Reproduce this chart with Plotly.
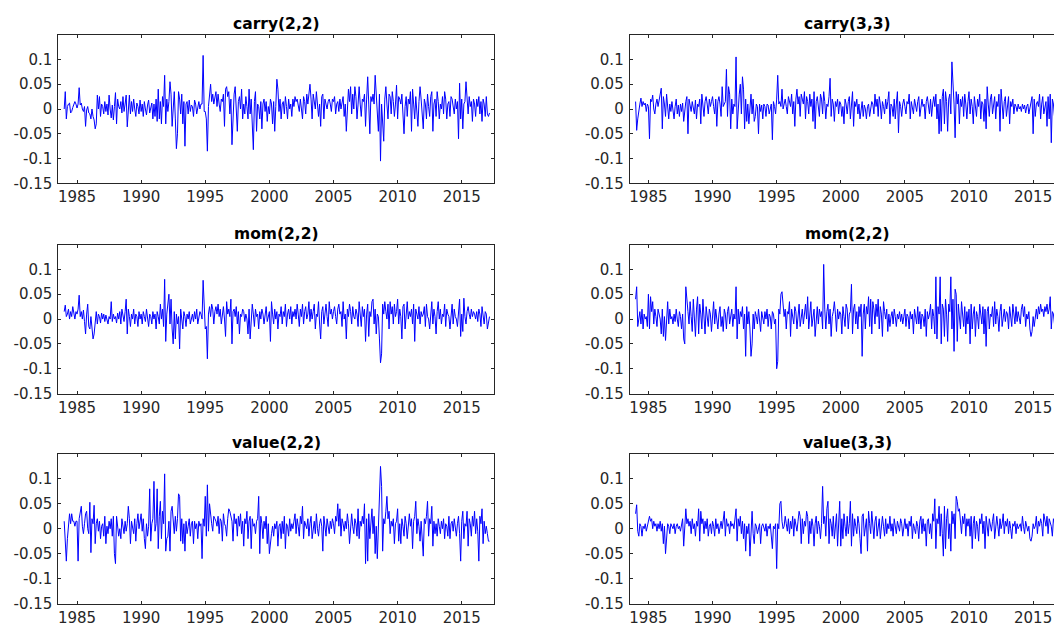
import plotly.graph_objects as go

# ---------------- data (monthly returns, Jan 1984 .. Mar 2017, in units of 0.001) -------------
START_YEAR = 1984
SCALE = 0.001

titles = ["carry(2,2)", "carry(3,3)", "mom(2,2)", "mom(2,2)", "value(2,2)", "value(3,3)"]

carry22 = [
    0, 35, -20, 5, 10, 12, -8, -5, 3, 8, 15, 10,
    2, 10, 43, 8, 12, 0, -5, 5, -35, -2, 5, -8,
    -10, -20, 0, -15, -22, -40, -30, 28, 0, 25, -15, 10,
    5, -10, 15, -5, 10, -12, 28, 0, -18, 8, -22, 5,
    33, -30, 20, 5, 0, 15, -8, 25, -5, 10, 28, -36,
    5, 28, -10, 15, -5, 20, 0, -15, 12, 5, -10, 18,
    -5, 10, -15, 15, 0, -12, 8, 18, -8, 5, 12, -20,
    10, -15, 20, -25, 40, -20, 15, -30, 25, 5, 68, -30,
    20, -5, 15, 55, 30, -35, 10, 35, -20, -80, -50, 35,
    20, -10, 30, -30, 15, -75, 10, 15, -10, 18, -5, 8,
    5, -15, 18, 10, -10, 5, 15, 0, 10, 10, 108, -5,
    -5, -20, -85, 5, 25, 50, 15, 30, 10, 20, 35, 5,
    30, 10, -5, 20, 15, 30, -35, 40, 45, 25, 35, -10,
    20, -72, 5, 30, 45, 10, -45, 15, 25, 0, 40, -20,
    10, -10, 25, 5, -20, 40, -10, 20, -50, -82, 15, 35,
    -45, 10, 5, -20, 15, -40, 10, 20, -5, 15, -25, 5,
    -10, 20, 10, -30, 15, -45, 5, 60, 40, -5, 20, -20,
    10, 15, -10, 25, 5, -20, 20, 0, 10, -15, 20, 5,
    25, 15, 20, 10, -5, 20, 0, -20, 25, 15, -10, 30,
    10, 40, 50, 20, -20, 30, 15, 0, 35, 5, -15, 10,
    -35, 25, 30, -20, 20, 10, 0, 15, 20, 10, -5, 20,
    15, 25, -10, 10, 15, -5, 20, 0, 15, 25, -15, 10,
    -45, 20, 40, 15, 45, -10, 30, 0, 45, 25, -20, 10,
    45, 10, -15, 20, 15, 30, -35, 20, 65, 10, -50, 25,
    15, 30, 10, 68, 20, -10, -45, 30, -105, 10, -30, -65,
    20, 45, 10, -20, 30, 25, -10, 35, 15, -15, 10, 48,
    -20, 25, 20, 10, 30, -10, -50, 5, 25, -15, 20, 10,
    35, -45, 40, 10, -20, 25, 0, -35, 15, 45, 20, -10,
    -40, 20, 10, -20, 30, 5, -15, 25, 35, -45, 10, 20,
    -15, 35, 15, -20, 10, 0, 25, -10, 35, 20, -20, 10,
    15, -15, 25, 20, 5, -10, 20, 0, 15, -60, 52, -20,
    20, -40, 10, 15, 55, 30, -10, 25, 5, 15, -25, 20,
    10, -15, 20, 5, 25, -10, 15, -25, 20, 10, -15, 25,
    -10, -15, -8,
]

carry33 = [
    15, -43, -20, 0, 10, 22, 5, 15, 8, 12, -5, 10,
    5, -60, 20, 15, 28, 0, -10, 10, 20, 5, 15, 25,
    42, -40, 25, 10, -15, 30, 5, -20, 10, -5, 15, 0,
    -20, 5, 20, -10, 8, -15, 10, -5, 12, -25, 5, 15,
    25, -50, 20, 10, -5, 15, 5, -10, 18, -20, 10, 5,
    20, -30, 30, 5, -15, 15, 25, 10, -10, 20, 5, 15,
    25, 5, -10, 20, -35, 15, 25, 10, -15, 45, 5, 10,
    15, 80, -15, 45, 30, -40, 20, -10, 10, 5, 105, -40,
    10, 30, 50, -10, 65, 40, -40, 20, -25, 10, -30, 15,
    30, -10, 20, -25, -15, 10, 5, -50, 10, -5, 8, -20,
    10, 5, -15, 10, 8, -10, 5, 10, -62, 15, 5, -10,
    20, 68, 10, 15, 5, 40, 0, 10, 20, 5, -10, 25,
    15, 5, 30, -10, 15, -35, 20, 40, 10, 25, -15, 30,
    20, 10, 35, -20, 25, 15, -10, 30, 5, 20, -25, 35,
    -40, 15, 25, 5, -15, 30, 20, -10, 35, 15, -20, 10,
    5, 25, 62, -15, 20, 10, -25, 15, 5, 20, -10, 15,
    10, -15, 5, -30, 20, 10, -10, 15, 25, -20, 10, 35,
    -35, 15, 5, 20, -10, 10, -20, 5, 15, -15, 8, 0,
    -20, 5, 10, -15, 0, 15, 10, -10, 30, 5, 20, -15,
    25, 10, -20, 15, 5, -10, 20, 0, 15, 35, -30, 10,
    5, -15, 20, -20, 10, 35, -48, 15, 5, -15, 10, 20,
    5, -10, 15, 10, 30, -20, 15, 5, -10, 20, 10, -5,
    15, 25, -15, 10, 20, 5, 10, -20, 15, 25, 5, -10,
    20, -15, 10, 25, 5, 30, -20, 10, -50, 20, -45, 25,
    40, -30, 35, 15, -45, 20, 30, -10, 95, 60, 10, -58,
    35, 10, 30, -30, 20, 5, 25, -15, 30, 10, -20, 15,
    35, -10, 20, 5, -30, 25, 10, -15, 20, 5, 30, -20,
    15, 10, -25, 20, -40, 45, 10, -15, 20, 30, -10, 5,
    25, -20, 15, 5, 30, -45, 40, 10, -20, 15, 25, -15,
    10, 25, -30, 15, 5, 20, -10, 10, 5, -5, 10, 0,
    5, -5, 10, 0, 8, -8, 5, 10, -10, 5, 15, 25,
    -50, 20, -15, 10, 15, 5, 30, -20, 10, 25, -10, 5,
    15, -35, 25, -20, 30, -68, 20, 10, -15, 25, -10, 15,
    -10, 5, 0,
]

mom22_left = [
    15, 28, 5, 10, 20, 0, 15, 5, 25, 10, 0, 15,
    10, 20, 48, 5, 15, 0, 18, -5, -30, 10, 30, -15,
    -20, 5, -25, -40, -30, 0, 15, -10, 10, 5, -8, 12,
    0, 10, -5, 8, 0, -10, 5, 0, 35, -5, 10, 0,
    5, -8, 12, 0, 15, -10, 20, 5, -5, 15, 40, -30,
    20, 5, -15, 10, 0, 20, -10, 10, 5, -15, 15, 0,
    10, -10, 15, 5, -5, 20, 0, -15, 10, 5, -10, 15,
    0, 10, -20, 15, 5, -10, 30, 0, 20, -15, 80, -45,
    10, 30, 50, -10, 40, -20, -50, 15, -40, 10, -10, 5,
    -60, 20, 0, -20, 15, 5, -15, 10, 0, 15, -10, 5,
    10, -5, 15, 0, 20, -10, 5, 15, 10, 0, 78, 5,
    -20, -15, -80, 10, 25, 5, 30, 20, -10, 15, 25, 10,
    30, 5, 20, -10, 15, 25, 0, -35, 35, 10, 20, 5,
    40, -50, 15, 20, 5, 25, -10, 15, -30, 10, 5, 20,
    15, -5, 10, 0, -30, 20, -40, 5, 30, 10, -15, 20,
    5, 10, -20, 15, 0, 20, 10, -10, 5, 25, -5, 10,
    15, -45, 35, 10, -10, 20, 0, 15, -20, 10, 5, 25,
    -10, 15, 5, 30, -15, 10, 20, 0, 25, -10, 15, 5,
    20, 0, 30, 10, -15, 20, 5, 30, -10, 15, 25, 0,
    10, 35, -5, 20, 0, 15, 30, -20, 10, 5, 35, -10,
    -40, 15, 25, -10, 20, 30, 5, -15, 35, 10, 20, 0,
    15, 25, 5, -10, 20, 30, 10, 15, -15, 35, 0, 10,
    -40, 20, 5, 30, 15, -10, 25, 5, 0, 20, 10, -15,
    35, 10, -15, 25, 5, 20, -45, 10, 30, -35, 15, 5,
    35, 40, -10, 20, -30, 10, 5, -40, -88, -70, 30, 10,
    35, 15, 0, 30, -20, 35, 10, 25, -10, 30, 5, 15,
    40, -10, 20, 5, -40, 25, 30, -20, 10, 35, 0, 15,
    5, 20, -10, 30, -45, 20, 10, 0, 25, -10, 15, 5,
    10, 25, -15, 30, 5, 0, -20, 15, 35, -10, 20, 5,
    -30, 15, 35, 0, 20, -10, 10, 5, 30, -15, 20, 10,
    5, -20, 15, 30, -10, 20, 5, 0, -15, 15, 40, -35,
    10, -25, 42, 5, -10, 15, 25, 10, 0, 20, 5, 15,
    10, 0, 15, -5, 20, 10, -15, 25, 5, -10, 15, 10,
    -20, -10, 5,
]

mom22_right = [
    40, 65, -15, 5, 15, -10, 20, -20, 10, 0, 5, -15,
    50, -20, 45, 15, 35, -10, 20, 5, -15, 20, 10, 0,
    -30, 20, -35, 5, -43, -10, 35, -10, 20, 0, 5, -10,
    10, -5, 20, 0, -15, 15, 5, -20, 10, -40, -50, 65,
    30, 15, -10, 35, 5, -25, 40, 10, -35, 20, 45, -30,
    30, 10, -20, 40, 5, -30, 25, 0, -15, 20, 10, -25,
    15, 35, -10, 20, 0, -20, 10, 25, -15, 5, -25, 20,
    10, -20, 15, 25, -10, 5, 20, -15, 10, 0, 65, -40,
    20, -10, 15, 5, 25, -20, 10, -75, 25, -10, 15, -20,
    -75, -50, 10, -20, 15, 5, -10, 20, 0, -25, 15, 5,
    -10, 15, 0, 20, -15, 10, 5, -20, 15, 10, -10, 0,
    -100, -85, 20, 10, 50, 55, 30, 5, 20, -20, 15, 10,
    35, -35, 20, 5, -10, 25, 15, -20, 10, 30, -15, 5,
    20, -10, 15, 30, 0, 45, -20, 10, 35, -15, 5, 20,
    -35, 10, 25, -10, 20, 5, 15, -20, 110, 20, -20, 15,
    30, -10, 20, -35, 5, 15, 35, 10, -25, 20, 0, 15,
    10, -30, 25, 5, -15, 30, 20, -20, 10, 15, 70, -30,
    20, 30, -10, 15, -20, 25, 5, 30, -75, 10, 30, -20,
    25, 10, 45, -15, 40, -30, 35, 20, -10, 30, 5, 40,
    -20, 25, 10, -35, 35, 15, 0, 20, -25, 10, -15, 5,
    15, -10, 20, 5, -15, 10, 0, 15, -5, 10, -10, 5,
    20, -15, 10, 5, -20, 15, 0, 10, -30, 20, 5, -10,
    25, -10, 15, -20, 10, 5, -15, 20, -35, 15, 0, 10,
    30, -20, 20, 5, -30, 85, -40, 25, 10, 85, -50, 30,
    20, -35, 40, 10, -45, 30, 15, 85, -20, 40, -65, 60,
    50, -45, 30, 10, -20, 35, 5, -15, 25, -30, 15, -10,
    20, -50, 30, -20, 10, 25, -35, 15, 5, -20, 30, 10,
    -10, 25, -30, 20, -55, 15, 25, -20, 10, 5, 25, -15,
    35, -10, 20, 5, -25, 15, 30, -15, 10, 20, -5, 15,
    10, -20, 25, 5, -15, 30, 10, -10, 25, -5, 15, 0,
    -10, 20, 30, 5, 25, -15, 10, 0, 15, -20, -35, -25,
    5, -15, 10, 20, 0, 25, 10, 30, 15, 20, 5, 25,
    15, 30, 10, 20, 45, -20, 15, 10, -10, 20, 5, 15,
    0, 5, 0,
]

value22 = [
    15, -40, -65, -20, 0, 30, 10, 30, 15, 15, 5, 15,
    15, -65, 20, 35, 45, 5, -10, 10, 30, 35, 0, -10,
    53, -48, 20, 10, 47, -30, 10, 20, -5, 15, -20, 5,
    10, -15, 25, -30, 5, -10, 15, 0, 20, -15, 25, -50,
    -70, 25, 5, -15, 0, -20, 20, 5, -10, 15, -5, 10,
    45, 20, -30, 15, 5, -10, 20, -25, 10, 30, 0, 15,
    30, -5, 20, -20, -40, 10, -15, 5, 80, -25, 10, 20,
    95, -5, 10, 80, -40, 25, 55, -20, 35, 10, 110, -45,
    -20, -15, 15, -45, 35, 45, 10, -10, 25, -5, 20, 70,
    65, -25, 20, -30, 10, -45, 15, -10, 5, 20, -15, 10,
    15, -30, 15, 0, 10, -20, 15, 5, 10, -60, 20, 5,
    65, -15, 88, -5, 50, 25, 10, -5, 25, 20, 15, 5,
    25, -10, 20, 15, -25, 30, 10, 5, -15, 20, 40, 35,
    25, 15, -25, 30, 10, 20, -15, 25, 5, 30, -10, 15,
    -35, 20, 10, 35, -20, 15, 25, -40, 20, 5, 10, -10,
    15, 20, 65, -50, 25, 10, -20, 15, 0, 25, -30, 10,
    -50, -20, -10, 5, -15, 10, 0, 15, -35, 5, 10, -20,
    15, -10, 25, -40, 10, 5, -15, 20, -5, 10, 0, 15,
    30, -10, 20, 5, -15, 25, 10, 45, -20, 15, 5, 0,
    20, -15, 10, 25, -20, 5, 15, -10, 30, 0, -15, 10,
    20, 5, -45, 25, 10, -15, 20, 5, -10, 15, 0, 20,
    10, -10, 25, 15, 50, 5, 40, -15, 20, 10, -5, 15,
    0, 30, 10, -30, 15, 30, 5, -10, 20, 10, -15, 40,
    -20, 15, 5, 25, 10, 50, -70, 20, -65, 30, -20, 10,
    40, -10, 25, -50, 5, -60, 15, 80, 125, 85, -45, 20,
    10, 35, 65, 20, 35, -10, 15, 5, 20, -30, 10, 15,
    40, -25, 10, -30, 20, 5, -15, 25, 10, -20, 15, 30,
    5, 20, -40, 15, 25, 55, -10, 20, 5, -25, 15, -20,
    -55, 20, 10, 25, 55, -15, 20, 10, 45, -35, 15, -10,
    10, -15, 20, 5, -10, 15, 0, 20, -20, 10, 5, -15,
    25, -20, 10, 15, -5, 20, 0, -15, 10, 25, -10, -65,
    15, 35, -20, 10, 5, 35, -35, 20, 10, -15, 25, 5,
    35, -10, 20, -5, -65, 25, 10, 40, -30, 15, -10, 5,
    -10, -25, -25,
]

value33 = [
    30, 48, -5, -15, 10, 5, -15, 5, 0, 10, -5, 5,
    10, 25, 15, 20, 0, 15, 5, 10, -5, 10, 0, 15,
    -5, 10, -30, 5, -50, -20, 10, 5, -10, 10, 5, 0,
    10, -10, 5, 10, 0, 5, -5, 10, 20, -35, 0, 40,
    10, 20, 5, 15, -10, 20, 0, 10, -15, 15, 5, 40,
    -25, 35, 10, 20, -10, 15, 0, 20, -15, 5, 10, -10,
    15, 5, -15, 20, 0, 10, -10, 5, 15, 0, 20, 35,
    -15, 20, 5, 10, -10, 15, 5, 10, 0, 20, 40, -25,
    20, 5, 25, -10, 15, -20, 10, -45, 5, -10, 10, -55,
    -20, 35, -10, -30, 10, 5, -10, 0, 10, -30, 5, 10,
    0, -5, 10, -15, 5, 0, 10, -10, -40, 5, 0, 10,
    -80, 10, 0, 50, 55, 15, 0, 5, 25, 10, -5, 20,
    -10, 15, 0, 25, -15, 20, 10, -5, 15, 35, 25, -30,
    20, -10, 15, 5, 35, 25, -30, 15, -10, 20, 5, -35,
    10, 25, -10, 15, 5, -20, 10, 85, 10, 25, -15, 40,
    55, -30, 20, 10, -15, 25, -20, 15, 30, -35, 10, 55,
    -35, 20, -20, 30, 5, -15, 25, -10, 10, 55, -35, 30,
    -15, 20, 5, -10, 25, 10, -20, -50, 25, 30, -15, 10,
    20, -45, 35, 10, -10, 35, 5, -20, 15, 25, -15, 10,
    20, -20, 10, 25, 5, -15, 20, -10, 10, 0, 25, -5,
    10, -15, 20, 5, -10, 15, 0, -5, 20, 10, -15, 5,
    20, 0, 10, -15, 15, 5, 25, -20, 10, 0, -10, 15,
    5, -20, 15, 25, -10, 20, -5, 10, -35, 15, 20, -10,
    10, -20, 30, 15, 60, -40, 20, 10, 45, -15, 30, -10,
    -55, 45, -40, 20, 40, -20, 10, -45, 35, 10, 30, -20,
    65, 55, 35, 40, 20, -10, 25, 10, 30, -15, 20, 5,
    20, -15, 25, -40, 10, 25, -20, 15, 5, -25, 20, 10,
    30, -10, 15, -40, 25, 5, -15, 20, 10, -5, 15, 30,
    -20, 10, 25, 5, -15, 20, 0, 10, 30, -10, 15, 5,
    20, -10, 15, 0, -20, 10, 5, 15, -10, 10, 0, 5,
    10, -5, 25, 5, -10, 15, 0, -5, 5, -20, -25, -15,
    10, 0, 5, 25, -10, 15, 5, 20, 10, -15, 30, 15,
    5, 25, -10, 20, 10, 5, -15, 20, 10, 0, 15, 5,
    0, 5, -5,
]

year_ticks = [1985, 1990, 1995, 2000, 2005, 2010, 2015]
y_ticks = [-0.15, -0.1, -0.05, 0, 0.05, 0.1]
y_tick_text = ["-0.15", "-0.1", "-0.05", "0", "0.05", "0.1"]

series = [carry22, carry33, mom22_left, mom22_right, value22, value33]

# ---------------- layout geometry ----------------
# The page adds an 8px body margin on every side, so the figure is sized to fill the
# 1062x635 window exactly and all target positions (page pixels) are shifted by 8px.
PAGE_W, PAGE_H = 1062, 635
OFF = 8.0
W, H = int(PAGE_W - 2 * OFF), int(PAGE_H - 2 * OFF)

px_per_year = (494.3 - 58.3) / 34.0
x_start = 1983.54
col_page = [(58.3, 494.3), (629.7, PAGE_W - OFF)]
row_page = [(35.0, 186.0), (248.0, 399.3), (460.5, 612.3)]
title_centres = [276.3, 847.7]

AX_COLOR = "#262626"
TICK_FONT = dict(family="DejaVu Sans", size=15, color="#262626")

fig = go.Figure()
annotations = []
layout_axes = {}

for k, (vals, title) in enumerate(zip(series, titles)):
    r, c = divmod(k, 2)
    idx = k + 1
    xs = [START_YEAR + i / 12.0 for i in range(len(vals))]
    ys = [v * SCALE for v in vals]
    fig.add_trace(go.Scatter(
        x=xs, y=ys, mode="lines",
        line=dict(color="#0000ff", width=1),
        xaxis=f"x{idx}", yaxis=f"y{idx}", showlegend=False,
        hoverinfo="skip",
    ))
    px0, px1 = col_page[c]
    ptop, pbot = row_page[r]
    x_end = x_start + (px1 - px0) / px_per_year
    xdom = [(px0 - OFF) / W, min(1.0, (px1 - OFF) / W)]
    ydom = [1 - (pbot - OFF) / H, 1 - (ptop - OFF) / H]
    common = dict(showline=True, linecolor=AX_COLOR, linewidth=1,
                  ticks="inside", ticklen=3, tickwidth=1, tickcolor=AX_COLOR,
                  showgrid=False, zeroline=False, tickfont=TICK_FONT)
    layout_axes[f"xaxis{idx}"] = dict(
        domain=xdom, range=[x_start, x_end], anchor=f"y{idx}", mirror="ticks",
        tickmode="array", tickvals=year_ticks, ticktext=[str(t) for t in year_ticks],
        **common)
    # the right-hand column runs off the edge of the picture: no right border there
    layout_axes[f"yaxis{idx}"] = dict(
        domain=ydom, range=[-0.15, 0.15], anchor=f"x{idx}",
        mirror="ticks" if c == 0 else False,
        tickmode="array", tickvals=y_ticks, ticktext=y_tick_text,
        ticklabelstandoff=2,
        **common)
    annotations.append(dict(
        text=f"<b>{title}</b>", x=(title_centres[c] - OFF) / W,
        y=1 - (ptop - 11 - OFF) / H,
        xref="paper", yref="paper", xanchor="center", yanchor="middle",
        showarrow=False, font=dict(family="DejaVu Sans", size=15.5, color="#000000"),
    ))

fig.update_layout(
    width=W, height=H,
    margin=dict(l=0, r=0, t=0, b=0),
    paper_bgcolor="white", plot_bgcolor="white",
    annotations=annotations,
    **layout_axes,
)

fig.write_html("out.html")
